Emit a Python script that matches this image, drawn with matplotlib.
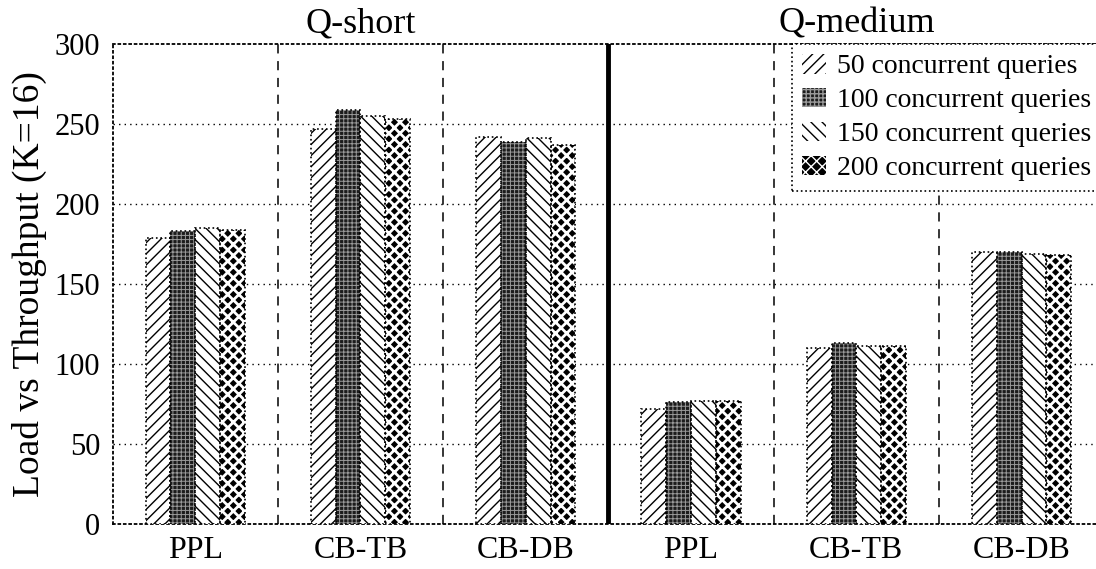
import matplotlib.pyplot as plt
import matplotlib.patches as mpatches
import numpy as np

plt.rcParams["font.family"] = ["Liberation Serif", "DejaVu Serif"]

categories = ["PPL", "CB-TB", "CB-DB", "PPL", "CB-TB", "CB-DB"]
groups = ["Q-short", "Q-medium"]
series = ["50 concurrent queries", "100 concurrent queries",
          "150 concurrent queries", "200 concurrent queries"]
q50 = [179, 247, 242, 72, 110, 170]
q100 = [183, 259, 239, 76, 113, 170]
q150 = [185, 255, 241, 77, 111, 169]
q200 = [184, 253, 237, 77, 111, 168]
values = [q50, q100, q150, q200]

# (facecolor, hatch, hatch colour, hatch linewidth)
styles = [
    ("white", "///", "black", 1.0),
    ("#1c1c1c", "++++", "#9a9a9a", 0.7),
    ("white", "\\\\\\", "black", 1.0),
    ("black", "xxx", "white", 2.0),
]

fig = plt.figure(figsize=(10.96, 5.69), dpi=100)
ax = fig.add_axes([112.5 / 1096, 45 / 569, 6 * 165.3 / 1096, 480 / 569])

x = np.arange(len(categories)) + 0.5
w = 0.15
for i, (vals, st) in enumerate(zip(values, styles)):
    pos = x + (i - 1.5) * w
    with plt.rc_context({"hatch.linewidth": st[3]}):
        ax.bar(pos, vals, w, facecolor=st[0], edgecolor=st[2], hatch=st[1],
               linewidth=0, zorder=3)
    ax.bar(pos, vals, w, facecolor="none", edgecolor="black",
           linestyle=":", linewidth=1.2, zorder=4)

ax.set_xlim(0, 6)
ax.set_ylim(0, 300)
ax.set_yticks(range(0, 301, 50))
ax.set_xticks(x)
ax.set_xticklabels(categories)
ax.tick_params(axis="x", length=0, labelsize=23, pad=9)
ax.tick_params(axis="y", length=0, labelsize=22, pad=9)
ax.set_ylabel("Load vs Throughput (K=16)", fontsize=27)
ax.yaxis.set_label_coords(-0.066, 0.5)

for yv in range(50, 300, 50):
    ax.axhline(yv, color="black", linestyle=(0, (1, 3)), linewidth=1, zorder=1)
for xv in [1, 2, 4, 5]:
    ax.axvline(xv, color="black", linestyle=(0, (6, 5)), linewidth=1.1, zorder=1)
ax.axvline(3, color="black", linewidth=3.5, zorder=5)

for s in ax.spines.values():
    s.set_linestyle((0, (1, 2)))
    s.set_linewidth(1.3)

ax.text(1.5, 302, groups[0], ha="center", va="bottom", fontsize=26)
ax.text(4.5, 302, groups[1], ha="center", va="bottom", fontsize=26)

handles = []
for st in styles:
    with plt.rc_context({"hatch.linewidth": st[3]}):
        handles.append(mpatches.Patch(facecolor=st[0], edgecolor=st[2],
                                      hatch=st[1], linewidth=0))
leg = fig.legend(handles, series, loc="upper left",
                 bbox_to_anchor=(792 / 1096, 1 - 44 / 569),
                 bbox_transform=fig.transFigure, fontsize=20,
                 frameon=True, fancybox=False, framealpha=1,
                 edgecolor="black", handlelength=0.86, handleheight=0.72,
                 handletextpad=0.4, labelspacing=0.3, borderpad=0.35,
                 borderaxespad=0)
leg.get_frame().set_linestyle(":")
leg.get_frame().set_linewidth(1.2)

fig.savefig("out.png", dpi=100)
